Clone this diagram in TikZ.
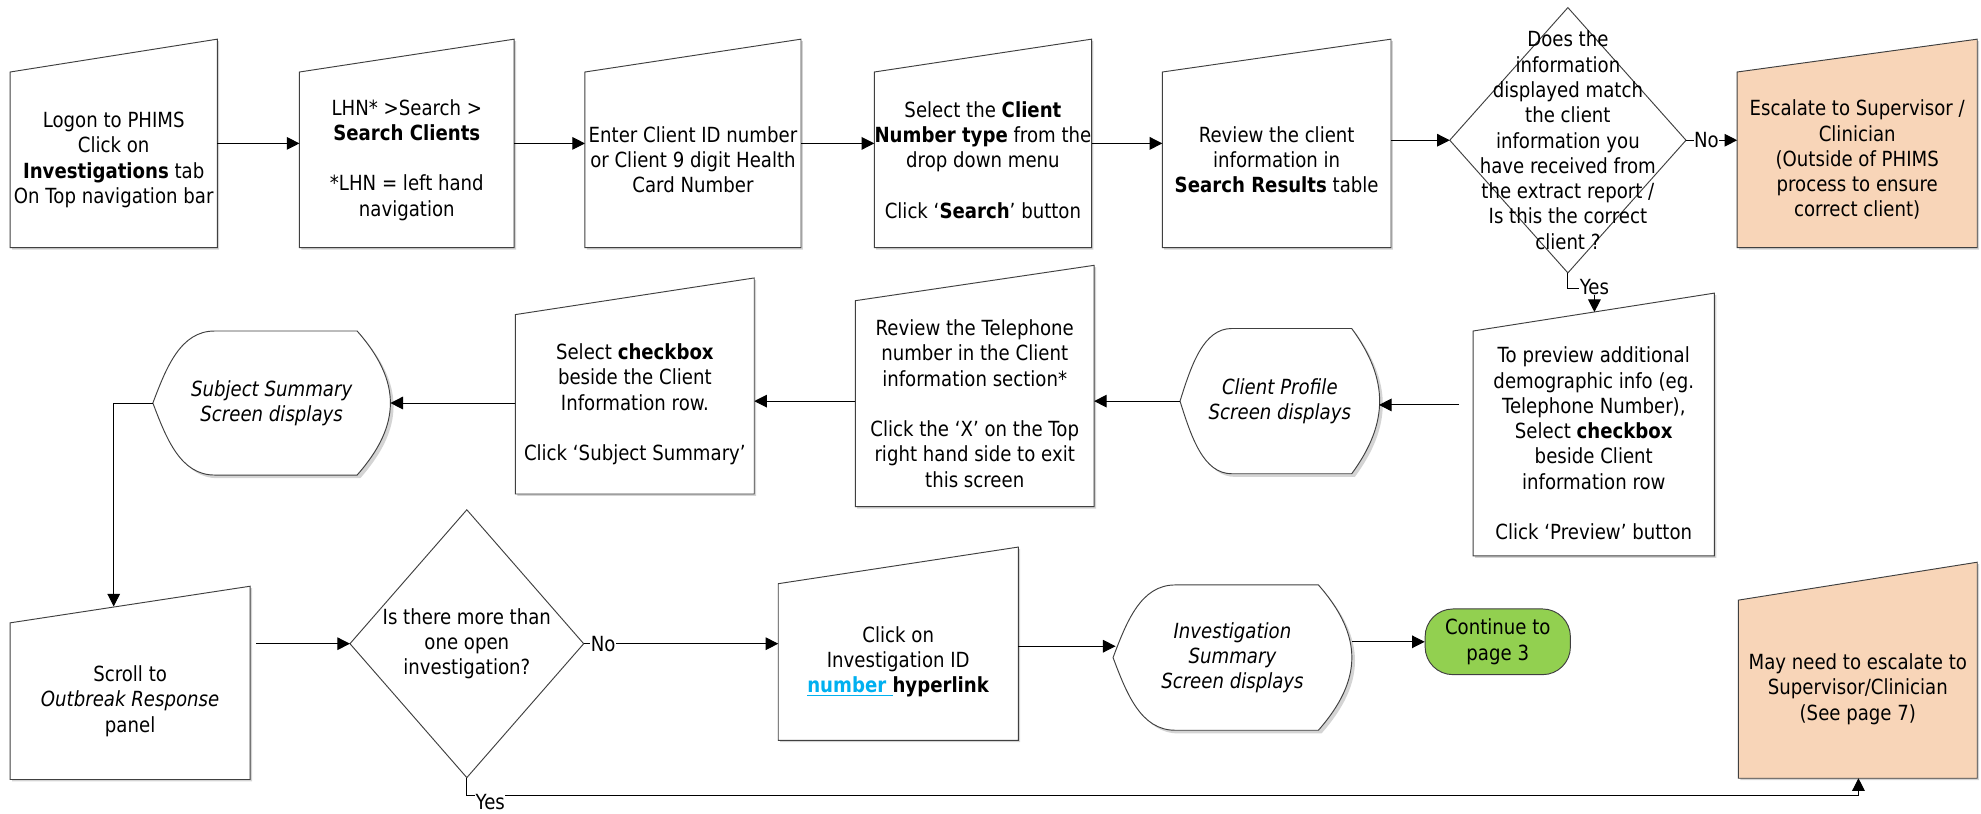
\documentclass[tikz,border=0pt]{standalone}
\usepackage{fontspec}
\setmainfont{DejaVu Sans}[FakeStretch=0.87]
\usetikzlibrary{arrows.meta,calc,fit}

\definecolor{peach}{HTML}{F8D5B8}
\definecolor{gogreen}{HTML}{92D050}
\definecolor{linkblue}{HTML}{00B0F0}
\definecolor{linegray}{HTML}{404040}
\definecolor{shadowgray}{HTML}{D4D4D4}

\tikzset{
  hull/.style={inner sep=0pt, outer sep=0pt, draw=none},
  outline/.style={draw=linegray, line width=0.75pt, line join=miter},
  txt/.style={align=center, inner sep=0pt, font=\fontsize{16.5pt}{20pt}\selectfont},
  itxt/.style={txt, font=\fontsize{16.5pt}{20pt}\selectfont\itshape},
  flow/.style={draw=black, line width=0.8pt, -{Triangle[length=10pt,width=10pt]}},
  lbl/.style={fill=white, inner sep=0.5pt, font=\fontsize{16.5pt}{20pt}\selectfont},
}

% manual-input step: rectangle whose top edge rises to the right
% [fill] name, left x, right x, top-right y, top-left y, bottom y, text
\newcommand{\stepbox}[8][white]{%
  \node[hull, fit={(#3,#5) (#4,#7)}] (#2) {};
  \fill[shadowgray] (#3+1.5,#7+1.5) -- (#4+1.5,#7+1.5) -- (#4+1.5,#5+1.5) -- (#3+1.5,#6+1.5) -- cycle;
  \filldraw[outline, fill=#1] (#2.south west) -- (#2.south east) -- (#2.north east) -- (#3,#6) -- cycle;
  \node[txt] (#2-text) at ($(#3,#6)!0.5!(#2.south east)$) {#8};
}

% screen-display shape: pointed left side, arc on the right
% name, left x, right x, top y, bottom y, text
\newcommand{\screenshape}[6]{%
  \node[hull, fit={(#2,#4) (#3,#5)}] (#1) {};
  \pgfmathsetmacro\sxl{#2+0.26*(#3-#2)}
  \pgfmathsetmacro\sxr{#3-0.14*(#3-#2)}
  \pgfmathsetmacro\sxc{\sxr+(#3-\sxr)/0.75}
  \pgfmathsetmacro\sxa{\sxl-0.55*(\sxl-#2)}
  \pgfmathsetmacro\sxt{#2+0.22*(\sxl-#2)}
  \pgfmathsetmacro\sym{(#4+#5)/2}
  \pgfmathsetmacro\syq{0.35*(#5-#4)}
  \pgfmathsetmacro\syl{0.25*(#5-#4)}
  \def\screenpath{(\sxl,#4) -- (\sxr,#4)
     .. controls (\sxc,#4+\syq) and (\sxc,#5-\syq) .. (\sxr,#5)
     -- (\sxl,#5)
     .. controls (\sxa,#5) and (\sxt,\sym+\syl) .. (#2,\sym)
     .. controls (\sxt,\sym-\syl) and (\sxa,#4) .. cycle}
  \fill[shadowgray, shift={(2.5pt,-2.5pt)}] \screenpath;
  \filldraw[outline, fill=white] \screenpath;
  \node[itxt] (#1-text) at (#1.center) {#6};
}

% decision diamond: name, centre x, centre y, width, height, text
\newcommand{\decision}[6]{%
  \node[hull, minimum width=#4pt, minimum height=#5pt] (#1) at (#2,#3) {};
  \draw[outline] (#1.north) -- (#1.east) -- (#1.south) -- (#1.west) -- cycle;
  \node[txt] (#1-text) at (#1.center) {#6};
}

\begin{document}
\begin{tikzpicture}[x=1pt,y=-1pt]
\useasboundingbox (0,0) rectangle (1568,644);

% ---- first row ----
\stepbox{b1}{8}{172}{31}{57}{196}{Logon to PHIMS\\Click on\\\textbf{Investigations} tab\\On Top navigation bar}
\stepbox{b2}{237}{407}{31}{57}{196}{LHN* >Search >\\\textbf{Search Clients}\\[20pt]*LHN = left hand\\navigation}
\stepbox{b3}{463}{634}{31}{57}{196}{Enter Client ID number\\or Client 9 digit Health\\Card Number}
\stepbox{b4}{692}{864}{31}{57}{196}{Select the \textbf{Client}\\\textbf{Number type} from the\\drop down menu\\[20pt]Click `\textbf{Search}' button}
\stepbox{b5}{920}{1101}{31}{57}{196}{Review the client\\information in\\\textbf{Search Results} table}
\decision{d1}{1241}{111}{187}{210}{Does the\\information\\displayed match\\the client\\information you\\have received from\\the extract report /\\Is this the correct\\client ?}
\stepbox[peach]{o1}{1375}{1565}{31}{57}{196}{Escalate to Supervisor /\\Clinician\\(Outside of PHIMS\\process to ensure\\correct client)}

% ---- second row ----
\stepbox{b6}{1166}{1357}{232}{262}{440}{To preview additional\\demographic info (eg.\\Telephone Number),\\Select \textbf{checkbox}\\beside Client\\information row\\[20pt]Click `Preview' button}
\screenshape{cp}{934}{1092}{260}{375}{Client Profile\\Screen displays}
\stepbox{b7}{677}{866}{210}{238}{401}{Review the Telephone\\number in the Client\\information section*\\[20pt]Click the `X' on the Top\\right hand side to exit\\this screen}
\stepbox{b8}{408}{597}{220}{249}{391}{Select \textbf{checkbox}\\beside the Client\\Information row.\\[20pt]Click `Subject Summary'}
\screenshape{ss}{121}{309}{262}{376}{Subject Summary\\Screen displays}

% ---- third row ----
\stepbox{b9}{8}{198}{464}{493}{617}{Scroll to\\\textit{Outbreak Response}\\panel}
\decision{d2}{369.5}{509.5}{185}{212}{Is there more than\\one open\\investigation?}
\stepbox{b10}{616}{806}{433}{462}{586}{Click on\\Investigation ID\\\textbf{\textcolor{linkblue}{\underline{number\ }}hyperlink}}
\screenshape{is}{881}{1070}{463}{578}{Investigation\\Summary\\Screen displays}
\node[txt, draw=linegray, line width=0.75pt, fill=gogreen, rounded corners=22pt,
      minimum width=115pt, minimum height=52pt] (ct) at (1185.5,508) {Continue to\\page 3};
\stepbox[peach]{o2}{1376}{1565}{445}{475}{616}{May need to escalate to\\Supervisor/Clinician\\(See page 7)}

% ---- connectors ----
\draw[flow] (b1.east) -- (b2.west);
\draw[flow] (b2.east) -- (b3.west);
\draw[flow] (b3.east) -- (b4.west);
\draw[flow] (b4.east) -- (b5.west);
\draw[flow] (b5.east |- d1.west) -- (d1.west);
\draw[flow] (d1.east) -- (d1.east -| o1.west) node[lbl, pos=0.4] {No};
\coordinate (b6-in) at (1262,247);
\draw[flow] (d1.south) -- ++(0,12) -| (b6-in);
\node[lbl] (yes1) at (1262,227) {Yes};

\coordinate (cp-in) at ($(cp.east)+(-0.5,3)$);
\draw[flow, shorten <=11pt] (b6.west |- cp-in) -- (cp-in);
\draw[flow] (cp.west) -- (cp.west -| b7.east);
\draw[flow] (b7.west |- cp.west) -- (cp.west -| b8.east);
\draw[flow] (b8.west |- ss.east) -- (ss.east);
\coordinate (b9-in) at (90,480);
\draw[flow] (ss.west) -| (b9-in);

\draw[flow, shorten <=5pt] (b9.east |- d2.west) -- (d2.west);
\draw[flow] (d2.east) -- (d2.east -| b10.west) node[lbl, pos=0.1] {No};
\coordinate (is-in) at ($(is.west)+(2,-9)$);
\draw[flow] (b10.east |- is-in) -- (is-in);
\draw[flow] (is.east |- ct.west) -- (ct.west);
\coordinate (yes-run) at (1471,630);
\draw[flow] (d2.south) |- (yes-run) -- (yes-run |- o2.south);
\node[lbl] (yes2) at (388,635) {Yes};
\end{tikzpicture}
\end{document}
